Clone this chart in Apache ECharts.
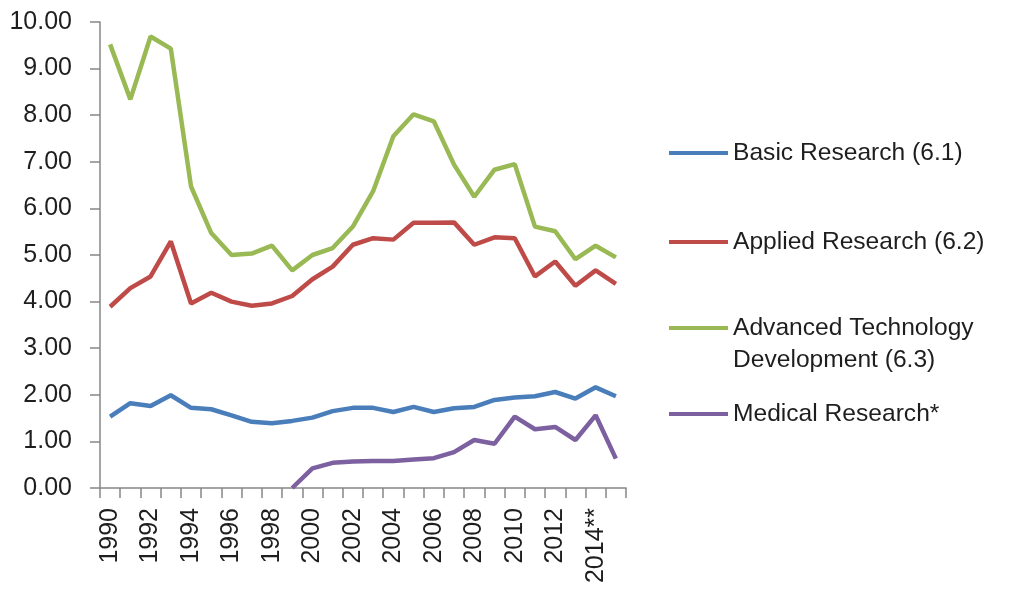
<!DOCTYPE html>
<html>
<head>
<meta charset="utf-8">
<script src="https://cdn.jsdelivr.net/npm/echarts@6/dist/echarts.min.js"></script>
<style>
  html, body { margin: 0; padding: 0; background: #fff; }
  #chart { width: 1009px; height: 593px; }
</style>
</head>
<body>
<div id="chart"></div>
<script>
// categories (fiscal years)
const years = ["1990","1991","1992","1993","1994","1995","1996","1997","1998","1999",
  "2000","2001","2002","2003","2004","2005","2006","2007","2008","2009",
  "2010","2011","2012","2013","2014**","2015"];

// series values
const basicResearch = [1.53,1.82,1.76,1.99,1.72,1.69,1.56,1.42,1.39,1.44,
  1.51,1.65,1.72,1.72,1.63,1.74,1.63,1.71,1.74,1.89,
  1.94,1.97,2.06,1.92,2.16,1.97];
const appliedResearch = [3.89,4.29,4.54,5.29,3.96,4.19,4.00,3.91,3.96,4.12,
  4.48,4.75,5.22,5.36,5.33,5.69,5.69,5.70,5.22,5.38,
  5.36,4.54,4.86,4.34,4.67,4.38];
const advancedTech = [9.52,8.34,9.69,9.43,6.47,5.47,5.00,5.03,5.20,4.67,
  5.00,5.15,5.61,6.37,7.55,8.02,7.87,6.94,6.25,6.83,
  6.95,5.61,5.51,4.91,5.20,4.95];
const medicalResearch = [null,null,null,null,null,null,null,null,null,0.00,
  0.42,0.54,0.57,0.58,0.58,0.61,0.64,0.77,1.03,0.95,
  1.53,1.26,1.31,1.03,1.56,0.63];

const names = ["Basic Research (6.1)", "Applied Research (6.2)",
  "Advanced Technology Development (6.3)", "Medical Research*"];
const colors = ["#4a7ebb", "#be4b48", "#98b954", "#7d60a0"];

const font = "'Liberation Sans', Arial, sans-serif";
const textColor = "#1e1e1e";
const axisColor = "#868686";
const legendText = { fontFamily: font, fontSize: 24.6, color: textColor, lineHeight: 32 };

function legendAt(i, top, extra) {
  return Object.assign({
    data: [names[i]],
    left: 669,
    top: top,
    orient: "vertical",
    padding: 0,
    icon: "rect",
    itemWidth: 59,
    itemHeight: 4,
    selectedMode: false,
    textStyle: legendText
  }, extra || {});
}

const chart = echarts.init(document.getElementById("chart"), null, { renderer: "canvas" });

chart.setOption({
  animation: false,
  color: colors,
  grid: { left: 100, right: 383, top: 22, bottom: 105, containLabel: false },
  legend: [
    legendAt(0, 137),
    legendAt(1, 226),
    // long name wraps in the original: first line here, second line as graphic text
    legendAt(2, 312, { formatter: () => "Advanced Technology" }),
    legendAt(3, 398)
  ],
  graphic: [{
    type: "text",
    left: 733,
    top: 344,
    style: Object.assign({ text: "Development (6.3)" }, {
      font: "24.6px " + font,
      fill: textColor,
      lineHeight: 32
    })
  }],
  xAxis: {
    type: "category",
    data: years,
    boundaryGap: true,
    axisLine: { lineStyle: { color: axisColor, width: 1.5 } },
    axisTick: { show: true, interval: 0, length: 10, lineStyle: { color: axisColor, width: 1.5 } },
    axisLabel: {
      interval: 1,
      rotate: 90,
      margin: 20,
      fontFamily: font,
      fontSize: 25,
      color: textColor
    },
    splitLine: { show: false }
  },
  yAxis: {
    type: "value",
    min: 0,
    max: 10,
    interval: 1,
    axisLine: { show: true, lineStyle: { color: axisColor, width: 1.5 } },
    axisTick: { show: true, length: 10, lineStyle: { color: axisColor, width: 1.5 } },
    axisLabel: {
      margin: 28,
      fontFamily: font,
      fontSize: 25,
      color: textColor,
      formatter: v => v.toFixed(2)
    },
    splitLine: { show: false }
  },
  series: [
    { name: names[0], type: "line", data: basicResearch },
    { name: names[1], type: "line", data: appliedResearch },
    { name: names[2], type: "line", data: advancedTech },
    { name: names[3], type: "line", data: medicalResearch }
  ].map(s => Object.assign(s, {
    symbol: "none",
    lineStyle: { width: 4.5 },
    emphasis: { disabled: true }
  }))
});
</script>
</body>
</html>
